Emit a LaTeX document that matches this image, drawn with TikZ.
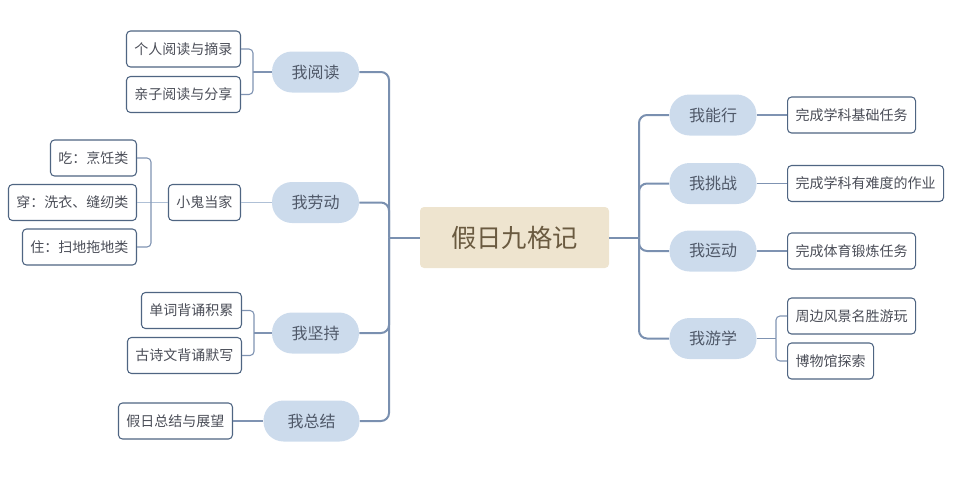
\documentclass[tikz,border=0pt]{standalone}
\usepackage{fontspec}
\setmainfont{Noto Sans CJK SC}
\definecolor{rootfill}{HTML}{EEE4CF}
\definecolor{roottext}{HTML}{6A5A40}
\definecolor{pill}{HTML}{CCDBEC}
\definecolor{pilltext}{HTML}{4F5868}
\definecolor{leafborder}{HTML}{4F6582}
\definecolor{leaftext}{HTML}{4B4E58}
\definecolor{trunkc}{HTML}{7A90B0}
\definecolor{twigc}{HTML}{7F93B2}
\definecolor{twiglight}{HTML}{AFC0D6}
\begin{document}
\begin{tikzpicture}[x=0.75pt,y=-0.75pt,
 root/.style={fill=rootfill, rounded corners=3pt, minimum width=141.75pt, minimum height=45.75pt, text=roottext, font=\fontsize{19}{22}\selectfont, inner sep=0pt},
 branch/.style={fill=pill, rounded corners=15pt, minimum width=65.25pt, minimum height=30.75pt, text=pilltext, font=\fontsize{12}{14}\selectfont, inner sep=0pt},
 leaf/.style={draw=leafborder, line width=0.8pt, rounded corners=3pt, fill=white, minimum height=27pt, inner xsep=6pt, inner ysep=0pt, text=leaftext, font=\fontsize{10.5}{12}\selectfont},
 trunk/.style={draw=trunkc, line width=1.5pt, rounded corners=6pt},
 twig/.style={draw=twigc, line width=0.8pt, rounded corners=3pt},
 twiglt/.style={draw=twiglight, line width=1pt},
]
\useasboundingbox (0,0) rectangle (954,483);

% root
\node[root] (c) at (514.5,237.5) {假日九格记};

% left branches
\node[branch] (read) at (315.5,72) {我阅读};
\node[branch] (labor) at (315.5,202.5) {我劳动};
\node[branch] (keep) at (315.5,333) {我坚持};
\node[branch, minimum width=72pt] (sum) at (311.5,421) {我总结};

% right branches
\node[branch] (can) at (713,115) {我能行};
\node[branch] (chal) at (713,183.5) {我挑战};
\node[branch] (sport) at (713,251) {我运动};
\node[branch] (trip) at (713,338.5) {我游学};

% left leaves
\node[leaf, anchor=east] (r1) at (241,49) {个人阅读与摘录};
\node[leaf, anchor=east] (r2) at (241,94.5) {亲子阅读与分享};
\node[leaf, anchor=east] (home) at (241,202.5) {小鬼当家};
\node[leaf, anchor=east] (h1) at (137,158) {吃：烹饪类};
\node[leaf, anchor=east] (h2) at (137,202.5) {穿：洗衣、缝纫类};
\node[leaf, anchor=east] (h3) at (137,247) {住：扫地拖地类};
\node[leaf, anchor=east] (k1) at (242,310.5) {单词背诵积累};
\node[leaf, anchor=east] (k2) at (242,355.5) {古诗文背诵默写};
\node[leaf, anchor=east] (s1) at (233,421) {假日总结与展望};

% right leaves
\node[leaf, anchor=west] (c1) at (787,115) {完成学科基础任务};
\node[leaf, anchor=west] (ch1) at (787,183.5) {完成学科有难度的作业};
\node[leaf, anchor=west] (sp1) at (787,251) {完成体育锻炼任务};
\node[leaf, anchor=west] (t1) at (787,316) {周边风景名胜游玩};
\node[leaf, anchor=west] (t2) at (787,361) {博物馆探索};

% trunk connectors
\coordinate (lt) at (389,237.5);
\coordinate (rt) at (639,237.5);
\draw[trunk] (c.west) -- (lt);
\draw[trunk] (lt) |- (read.east);
\draw[trunk] (lt) |- (labor.east);
\draw[trunk] (lt) |- (keep.east);
\draw[trunk] (lt) |- (sum.east);
\draw[trunk] (c.east) -- (rt);
\draw[trunk] (rt) |- (can.west);
\draw[trunk] (rt) |- (chal.west);
\draw[trunk] (rt) |- (sport.west);
\draw[trunk] (rt) |- (trip.west);

% twig connectors left
\coordinate (rb) at (253,72);
\draw[twig] (read.west) -- (rb);
\draw[twig] (rb) |- (r1.east);
\draw[twig] (rb) |- (r2.east);

\draw[twiglt] (labor.west) -- (home.east);
\coordinate (hb) at (151,202.5);
\draw[twiglt] (home.west) -- (h2.east);
\draw[twig] (hb) |- (h1.east);
\draw[twig] (hb) |- (h3.east);

\coordinate (kb) at (254,333);
\draw[twig] (keep.west) -- (kb);
\draw[twig] (kb) |- (k1.east);
\draw[twig] (kb) |- (k2.east);

\draw[twig] (sum.west) -- (s1.east);

% twig connectors right
\draw[twig] (can.east) -- (c1.west);
\draw[twig] (chal.east) -- (ch1.west);
\draw[twig] (sport.east) -- (sp1.west);
\coordinate (tb) at (776,338.5);
\draw[twig] (trip.east) -- (tb);
\draw[twig] (tb) |- (t1.west);
\draw[twig] (tb) |- (t2.west);
\end{tikzpicture}
\end{document}
